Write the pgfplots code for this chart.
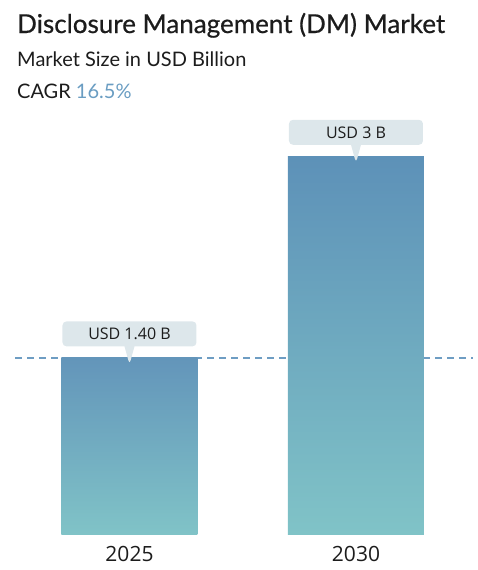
\documentclass[border=0pt]{standalone}
\usepackage{fontspec}
\setmainfont{Lato}
\newfontfamily\titlefont[FakeBold=0.6]{Lato}
\newfontfamily\labelfont{Open Sans}
\usepackage{pgfplots}
\pgfplotsset{compat=1.18}
\usetikzlibrary{shapes.callouts}

\definecolor{titlec}{HTML}{1C1C1C}
\definecolor{cagrc}{HTML}{6A9DC2}
\definecolor{boxc}{HTML}{DDE7EB}
\definecolor{dashc}{HTML}{6E9DC3}
\definecolor{bartop}{HTML}{5D91B8}
\definecolor{bartopb}{HTML}{6395BA}
\definecolor{barbot}{HTML}{80C3C7}

\begin{document}
\begin{tikzpicture}
\useasboundingbox (0,0) rectangle (478pt,-570pt);

% titles
\node[anchor=base west, inner sep=0, text=titlec, font=\titlefont\fontsize{26}{30}\selectfont] at (17pt,-33pt) {Disclosure Management (DM) Market};
\node[anchor=base west, inner sep=0, text=titlec, font=\fontsize{20}{23}\selectfont] at (17pt,-66pt) {Market Size in USD Billion};
\node[anchor=base west, inner sep=0, text=titlec, font=\fontsize{20}{23}\selectfont] at (17pt,-98pt) {CAGR \textcolor{cagrc}{16.5\%}};

\begin{axis}[
at={(15pt,-534pt)}, anchor=south west,
width=458pt, height=428.4pt, scale only axis,
xmin=-0.5055, xmax=1.5166,
ymin=0, ymax=3.4,
axis line style={draw=none},
major tick length=0pt,
ytick=\empty,
xtick={0,1}, xticklabels={2025,2030},
xticklabel style={font=\labelfont\fontsize{21}{25}\selectfont, text=titlec, anchor=base, yshift=-27pt},
clip=false,
every node near coord/.append style={
  shape=rectangle callout, fill=boxc, rounded corners=4pt,
  minimum width=134pt, minimum height=25pt, inner sep=0pt,
  callout relative pointer={(0pt,-18pt)}, callout pointer width=10pt,
  yshift=11pt, text=titlec, font=\labelfont\fontsize{16}{19}\selectfont},
]
% reference line at the 2025 value
\addplot[draw=dashc, no marks, line width=1.8pt, dash pattern=on 7pt off 5pt] coordinates {(-0.5055,1.4) (1.5166,1.4)};

\addplot[ybar, bar width=136pt, draw=none, top color=bartopb, bottom color=barbot,
  nodes near coords, point meta=explicit symbolic]
  coordinates {(0,1.40) [USD 1.40 B]};
\addplot[ybar, bar width=136pt, draw=none, top color=bartop, bottom color=barbot,
  nodes near coords, point meta=explicit symbolic]
  coordinates {(1,3) [USD 3 B]};
\end{axis}
\end{tikzpicture}
\end{document}
